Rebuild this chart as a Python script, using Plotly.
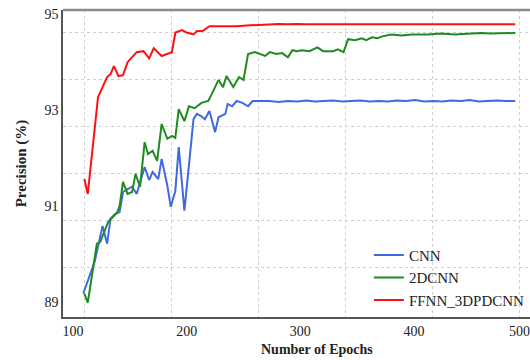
import plotly.graph_objects as go

# ---- data (epochs, precision %) ----
cnn_x = [109, 119, 126, 130, 133, 137, 141, 144, 148, 152, 156, 163, 167, 170, 175, 178, 183, 186, 190, 193,
         198, 206, 209, 213, 216, 220, 225, 228, 234, 236, 240, 244, 249, 254, 258, 264, 273,
         281, 289, 297, 305, 313, 321, 329, 337, 345, 353, 361, 369, 377, 385, 393, 401, 409, 417, 425, 433,
         441, 449, 457, 465, 473, 481, 489]
cnn_y = [89.17, 89.83, 90.58, 90.21, 90.73, 90.83, 90.87, 91.29, 91.35, 91.40, 91.25, 91.81, 91.54, 91.71, 91.56,
         91.98, 91.42, 90.98, 91.31, 92.23, 90.90, 92.81, 92.92, 92.87, 92.81, 92.98, 92.54, 92.85, 92.92, 93.13,
         93.08, 93.19, 93.15, 93.08, 93.19, 93.19, 93.19,
         93.17, 93.19, 93.18, 93.20, 93.18, 93.19, 93.20, 93.18, 93.19, 93.20, 93.18, 93.19, 93.18, 93.20, 93.19,
         93.21, 93.18, 93.19, 93.18, 93.20, 93.19, 93.21, 93.18, 93.19, 93.20, 93.19, 93.19]

cnn2d_x = [110, 113, 121, 124, 131, 139, 141, 144, 148, 152, 155, 159, 163, 166, 170, 174, 178, 183, 187, 190,
           193, 198, 202, 207, 213, 219, 223, 228, 232, 235, 241, 246, 250, 254, 260, 269, 273, 279, 284, 289,
           293, 297, 301, 308, 315, 320, 329, 333, 338, 342, 348, 354, 358, 363, 368, 372, 380, 389, 398, 412,
           424, 436, 443, 451, 459, 467, 475, 483, 489]
cnn2d_y = [89.17, 88.98, 90.21, 90.25, 90.67, 90.87, 91.00, 91.50, 91.25, 91.29, 91.67, 91.40, 92.33, 92.08,
           92.15, 91.94, 92.71, 92.40, 92.46, 92.42, 93.02, 92.77, 93.08, 93.04, 93.15, 93.19, 93.38, 93.63,
           93.48, 93.71, 93.48, 93.69, 93.63, 94.17, 94.21, 94.13, 94.21, 94.17, 94.19, 94.10, 94.25, 94.23,
           94.25, 94.23, 94.31, 94.23, 94.23, 94.27, 94.21, 94.48, 94.46, 94.50, 94.46, 94.52, 94.50, 94.54,
           94.58, 94.56, 94.58, 94.58, 94.60, 94.58, 94.59, 94.60, 94.61, 94.60, 94.60, 94.60, 94.61]

ffnn_x = [110, 113, 122, 130, 133, 136, 140, 144, 148, 156, 162, 167, 171, 178, 187, 190, 196, 200, 206, 209,
          214, 220, 232, 244, 256, 273,
          281, 289, 297, 305, 313, 321, 329, 337, 345, 353, 361, 369, 377, 385, 393, 401, 409, 417, 425, 433,
          441, 449, 457, 465, 473, 481, 489]
ffnn_y = [91.56, 91.25, 93.27, 93.69, 93.75, 93.92, 93.71, 93.73, 94.00, 94.21, 94.23, 94.08, 94.29, 94.13,
          94.21, 94.62, 94.67, 94.62, 94.58, 94.65, 94.65, 94.75, 94.75, 94.75, 94.77, 94.79,
          94.80, 94.79, 94.80, 94.79, 94.79, 94.80, 94.79, 94.80, 94.80, 94.79, 94.80, 94.79, 94.80, 94.79,
          94.80, 94.79, 94.80, 94.79, 94.79, 94.80, 94.79, 94.80, 94.79, 94.80, 94.79, 94.79, 94.79]

x_ticks = [100, 200, 300, 400]
x_last_tick = 500
y_ticks = [89, 91, 93, 95]
x_grid = [110, 186.5, 263, 339.5, 416, 492.5]
y_grid = [89.72, 90.70, 91.68, 92.66, 93.64, 94.62]

series = [
    ("CNN", cnn_x, cnn_y, "#4169e1"),
    ("2DCNN", cnn2d_x, cnn2d_y, "#1f8a1f"),
    ("FFNN_3DPDCNN", ffnn_x, ffnn_y, "#ff1010"),
]

SERIF = "Liberation Serif"

fig = go.Figure()
for name, xs, ys, col in series:
    fig.add_trace(go.Scatter(x=xs, y=ys, mode="lines", name=name,
                             line=dict(color=col, width=2)))

fig.update_layout(
    width=530, height=360,
    margin=dict(l=63, r=0, t=10, b=43, autoexpand=False),
    paper_bgcolor="white", plot_bgcolor="white",
    font=dict(family=SERIF, size=14, color="#222"),
    showlegend=True,
    legend=dict(x=0.655, y=0.255, xanchor="left", yanchor="top",
                bgcolor="rgba(0,0,0,0)", font=dict(family=SERIF, size=15, color="#222"),
                itemwidth=30, tracegroupgap=0),
    xaxis=dict(range=[91.2, 502], tickvals=x_ticks, showgrid=False, zeroline=False,
               showline=True, linecolor="#555", linewidth=1.5, ticks="",
               automargin=False,
               tickfont=dict(family=SERIF, size=14, color="#222"),
               minor=dict(tickvals=x_grid, showgrid=True, gridcolor="#cfcfcf",
                          griddash="dot", gridwidth=1, ticks="")),
    yaxis=dict(range=[88.68, 95.09], tickvals=y_ticks, showgrid=False, zeroline=False,
               showline=True, linecolor="#555", linewidth=1.5, ticks="",
               automargin=False,
               tickfont=dict(family=SERIF, size=14, color="#222"),
               minor=dict(tickvals=y_grid, showgrid=True, gridcolor="#cfcfcf",
                          griddash="dot", gridwidth=1, ticks=""),
               title=dict(text="Precision (%)", standoff=14,
                          font=dict(family=SERIF, size=15, color="#222", weight="bold"))),
    shapes=[dict(type="line", xref="paper", yref="paper", x0=0, x1=1, y0=1, y1=1,
                 line=dict(color="#8a8a8a", width=2.5))],
    annotations=[
        dict(text="Number of Epochs", xref="paper", yref="paper", x=0.544, y=-0.107,
             xanchor="center", yanchor="middle", showarrow=False,
             font=dict(family=SERIF, size=14, color="#222", weight="bold")),
        dict(text=str(x_last_tick), xref="x", yref="paper", x=x_last_tick, y=0,
             xanchor="center", yanchor="middle", xshift=-8, yshift=-14, showarrow=False,
             font=dict(family=SERIF, size=14, color="#222")),
    ],
)

fig.write_html("out.html")
